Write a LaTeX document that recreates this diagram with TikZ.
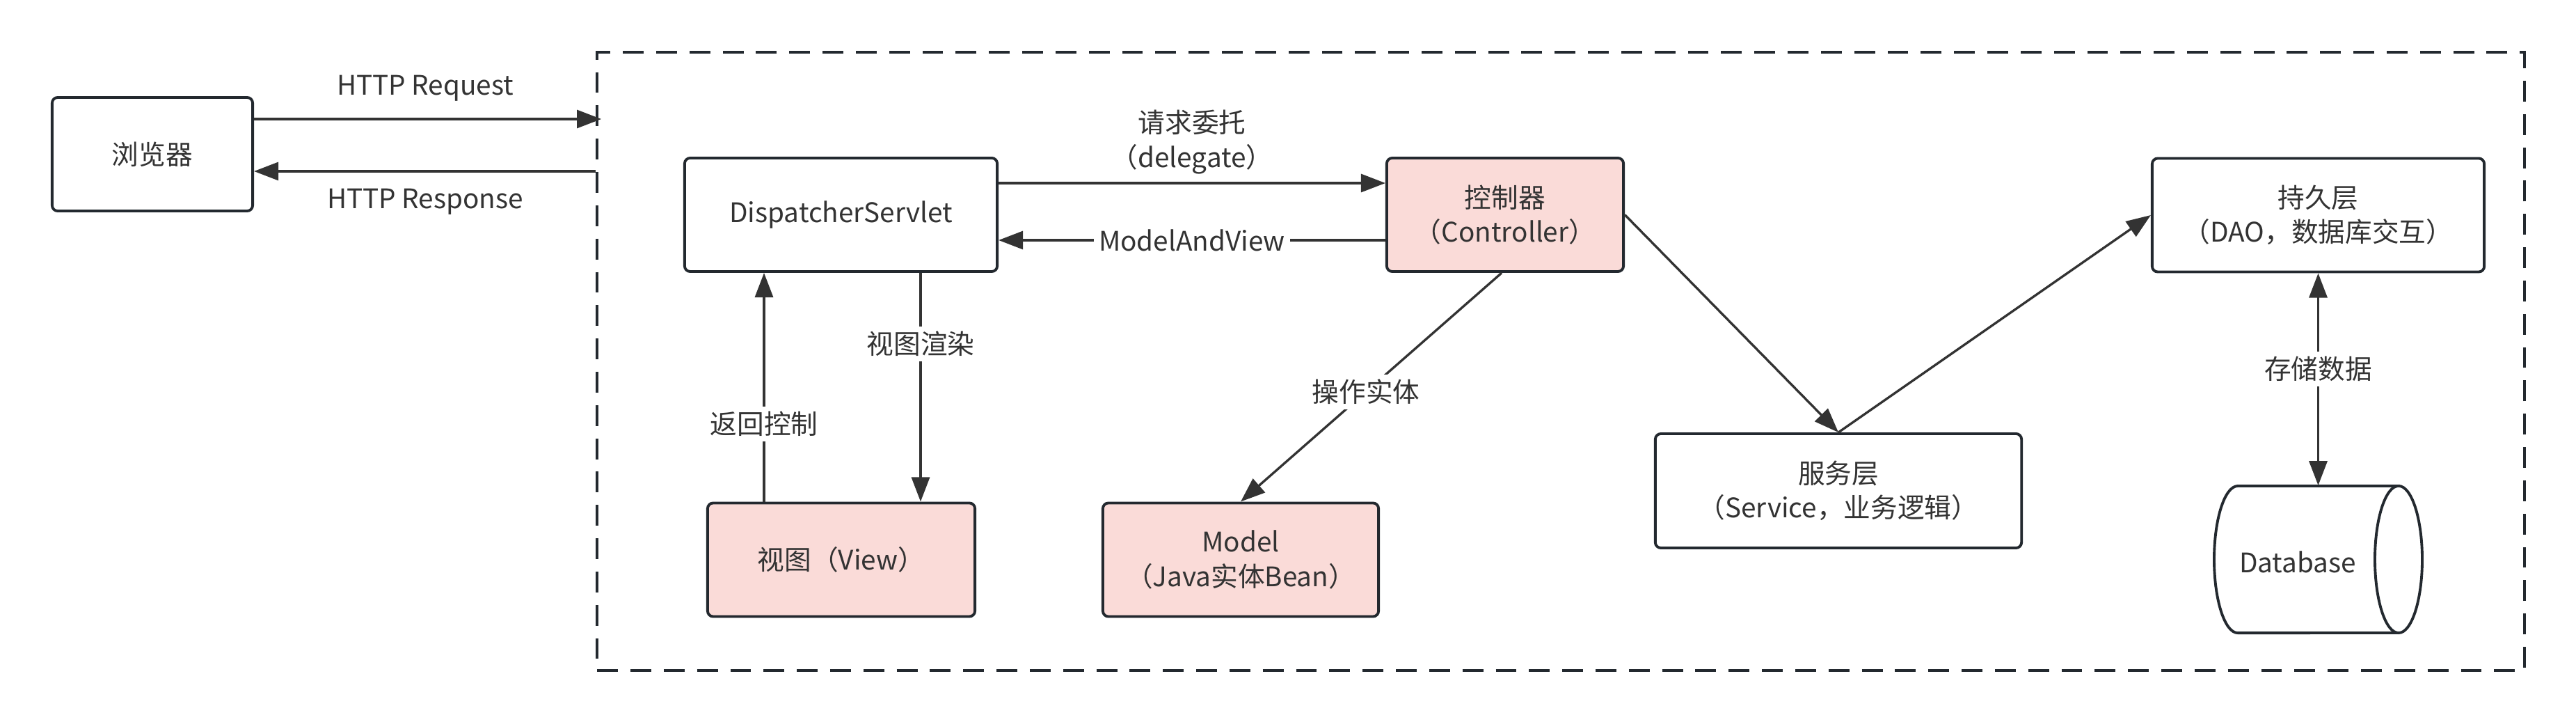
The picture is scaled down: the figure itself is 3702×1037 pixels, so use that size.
\documentclass[tikz,border=0pt]{standalone}
\usepackage{fontspec}
\setmainfont{Noto Sans CJK SC}
\usetikzlibrary{arrows.meta,calc}
\definecolor{bord}{RGB}{35,41,47}
\definecolor{pinkfill}{RGB}{250,219,216}
\definecolor{txt}{RGB}{51,51,51}
\definecolor{arrc}{RGB}{51,51,51}
\begin{document}
\begin{tikzpicture}[x=0.01cm,y=-0.01cm,
  font=\fontsize{11}{14}\selectfont, text=txt,
  box/.style={draw=bord, line width=1.1pt, rounded corners=0.08cm, fill=white,
    align=center, inner sep=0pt, minimum height=1.63cm},
  pinkbox/.style={box, fill=pinkfill},
  conn/.style={draw=arrc, line width=0.95pt, -{Triangle[length=10pt,width=7.4pt]}},
  biconn/.style={draw=arrc, line width=0.95pt, {Triangle[length=10pt,width=7.4pt]}-{Triangle[length=10pt,width=7.4pt]}},
  lbl/.style={align=center, inner sep=1pt},
  onlbl/.style={fill=white, inner sep=2pt, align=center},
  framebox/.style={draw=bord, line width=1.15pt, dash pattern=on 8.5pt off 5.1pt, inner sep=0pt}
]
\useasboundingbox (0,0) rectangle (3702,1037);

% outer dashed frame
\node[framebox, minimum width=27.68cm, minimum height=8.88cm] (frame) at (2243,519) {};

% nodes
\node[box, minimum width=2.88cm] (browser) at (219,221.5) {浏览器};
\node[box, minimum width=4.49cm] (ds) at (1208.5,308.5) {DispatcherServlet};
\node[pinkbox, minimum width=3.40cm] (ctrl) at (2163,308.5) {控制器\\（Controller）};
\node[pinkbox, minimum width=3.84cm] (view) at (1209,804) {视图（View）};
\node[pinkbox, minimum width=3.96cm] (model) at (1783,804) {Model\\（Java实体Bean）};
\node[box, minimum width=5.26cm, minimum height=1.64cm] (service) at (2642,705) {服务层\\（Service，业务逻辑）};
\node[box, minimum width=4.77cm] (persist) at (3331.5,309) {持久层\\（DAO，数据库交互）};

% database cylinder
\node[minimum width=2.99cm, minimum height=2.11cm, inner sep=0pt] (db) at (3331.5,803.5) {};
\draw[draw=bord, line width=1.1pt, fill=white]
  (3447,698) -- (3216,698) arc[start angle=90, end angle=270, x radius=0.34cm, y radius=1.055cm] -- (3447,909);
\draw[draw=bord, line width=1.1pt, fill=white] (3447,803.5) ellipse [x radius=0.34cm, y radius=1.055cm];
\node[lbl] (dbtext) at (3302,807) {Database};

% helper coordinates
\coordinate (yreq) at (0,171);
\coordinate (yresp) at (0,246);
\coordinate (ydel) at (0,263);
\coordinate (ymav) at (0,345);
\coordinate (xret) at (1098,0);
\coordinate (xren) at (1323,0);
\coordinate (reqEnd) at ($(frame.west |- yreq)+(8,0)$);
\coordinate (respStart) at (frame.west |- yresp);

% connectors
\draw[conn] (browser.east |- yreq) -- (reqEnd);
\draw[conn] (respStart) -- (browser.east |- yresp);
\node[lbl] (reqlbl) at (611,127) {HTTP Request};
\node[lbl] (resplbl) at (611,290) {HTTP Response};

\draw[conn] (ds.east |- ydel) -- (ctrl.west |- ydel);
\node[lbl] (dellbl) at (1713,204) {请求委托\\（delegate）};
\draw[conn] (ctrl.west |- ymav) -- node[onlbl] (mavlbl) {ModelAndView} (ds.east |- ymav);

\draw[conn] (ds.south -| xren) -- node[onlbl, pos=0.31] (renlbl) {视图渲染} (view.north -| xren);
\draw[conn] (view.north -| xret) -- node[onlbl, pos=0.34] (retlbl) {返回控制} (ds.south -| xret);

\draw[conn] ($(ctrl.south)+(-5,0)$) -- node[onlbl, pos=0.52] (oplbl) {操作实体} (model.north);
\draw[conn] (ctrl.east) -- (service.north);
\draw[conn] (service.north) -- (persist.west);
\draw[biconn] (persist.south) -- node[onlbl, pos=0.45] (stlbl) {存储数据} (db.north);
\end{tikzpicture}
\end{document}
